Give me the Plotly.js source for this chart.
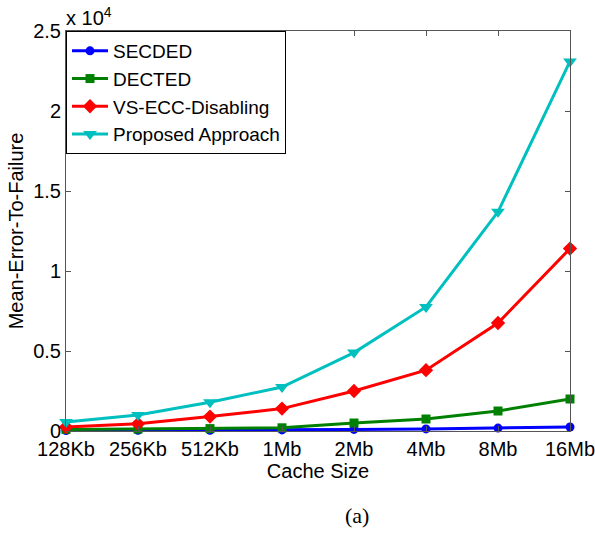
<!DOCTYPE html>
<html>
<head>
<meta charset="utf-8">
<script src="https://cdn.plot.ly/plotly-3.0.1.min.js"></script>
<style>html,body{margin:0;padding:0;background:#fff;}#chart{width:595px;height:533px;}</style>
</head>
<body>
<div id="chart"></div>
<script>
const categories = ["128Kb","256Kb","512Kb","1Mb","2Mb","4Mb","8Mb","16Mb"];
const secded   = [0.003, 0.004, 0.005, 0.007, 0.010, 0.013, 0.018, 0.025];
const dected   = [0.010, 0.012, 0.015, 0.020, 0.050, 0.075, 0.125, 0.200];
const vsecc    = [0.025, 0.045, 0.090, 0.140, 0.250, 0.380, 0.675, 1.140];
const proposed = [0.056, 0.100, 0.180, 0.275, 0.490, 0.775, 1.370, 2.310];
const yTicks = [0, 0.5, 1, 1.5, 2, 2.5];
const yTickText = ["0", "0.5", "1", "1.5", "2", "2.5"];

const FONT = "Liberation Sans, Arial, sans-serif";
function tr(name, y, color, symbol, size) {
  return {
    x: categories, y: y, name: name, type: "scatter", mode: "lines+markers",
    line: {color: color, width: 3},
    marker: {color: color, symbol: symbol, size: size},
    cliponaxis: false
  };
}
const data = [
  tr("SECDED", secded, "#0000ff", "circle", 9),
  tr("DECTED", dected, "#008000", "square", 9),
  tr("VS-ECC-Disabling", vsecc, "#ff0000", "diamond", 11),
  tr("Proposed Approach", proposed, "#00bfbf", "triangle-down", 12)
];
const layout = {
  width: 595, height: 533,
  margin: {l: 66, r: 25, t: 31, b: 102},
  paper_bgcolor: "#fff", plot_bgcolor: "#fff",
  font: {family: FONT, size: 20, color: "#000"},
  showlegend: true,
  legend: {x: 0, y: 1, xanchor: "left", yanchor: "top", bordercolor: "#000", borderwidth: 1,
           bgcolor: "#fff", font: {family: FONT, size: 19}, tracegroupgap: 0, itemwidth: 36},
  xaxis: {
    type: "category", range: [0, 7], showgrid: false, zeroline: false,
    showline: true, mirror: "ticks", linecolor: "#555", linewidth: 1,
    ticks: "inside", ticklen: 5, tickcolor: "#555",
    tickfont: {family: FONT, size: 20},
    title: {text: "Cache Size", font: {family: FONT, size: 20}, standoff: 0},
    automargin: false
  },
  yaxis: {
    range: [0, 2.5], tickvals: yTicks, ticktext: yTickText, showgrid: false, zeroline: false,
    showline: true, mirror: "ticks", linecolor: "#555", linewidth: 1,
    ticks: "inside", ticklen: 5, tickcolor: "#555",
    tickfont: {family: FONT, size: 20},
    title: {text: "Mean-Error-To-Failure", font: {family: FONT, size: 20}, standoff: 4},
    automargin: false
  },
  annotations: [
    {text: "x 10<sup>4</sup>", xref: "paper", yref: "paper", x: 0, y: 1, xanchor: "left", yanchor: "bottom",
     showarrow: false, font: {family: FONT, size: 20}, yshift: 0, xshift: -2},
    {text: "(a)", xref: "paper", yref: "paper", x: 0.577, y: -0.21, xanchor: "center", yanchor: "middle",
     showarrow: false, font: {family: "Liberation Serif, Times New Roman, serif", size: 22}}
  ]
};
Plotly.newPlot("chart", data, layout, {displayModeBar: false, staticPlot: true});
</script>
</body>
</html>
